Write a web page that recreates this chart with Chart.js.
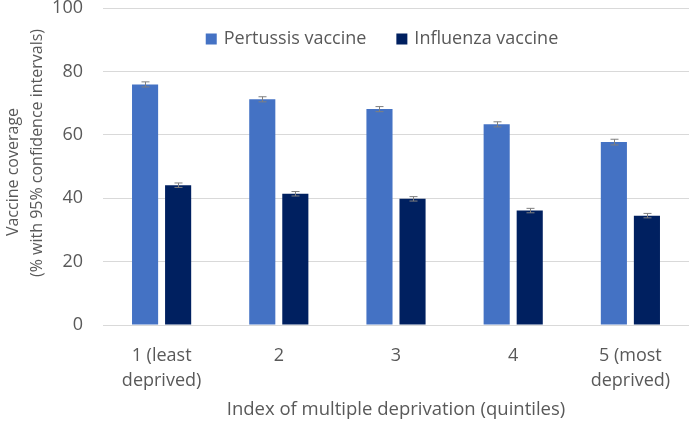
<!DOCTYPE html>
<html>
<head>
<meta charset="utf-8">
<script src="https://cdn.jsdelivr.net/npm/chart.js@4"></script>
<style>
  html, body { margin: 0; padding: 0; background: #fff; }
  #wrap { width: 689px; height: 421px; }
</style>
</head>
<body>
<div id="wrap"><canvas id="myChart" width="689" height="421"></canvas></div>
<script>
// quintile labels (multi-line)
const categories = [["1 (least", "deprived)"], "2", "3", "4", ["5 (most", "deprived)"]]
const pertussis = [75.9, 71.2, 68.1, 63.3, 57.7]
const pertussisLow = [75.1, 70.4, 67.3, 62.5, 56.8]
const pertussisHigh = [76.7, 72.0, 68.9, 64.1, 58.6]
const influenza = [44.1, 41.4, 39.8, 36.1, 34.5]
const influenzaLow = [43.4, 40.7, 39.1, 35.4, 33.8]
const influenzaHigh = [44.8, 42.1, 40.5, 36.8, 35.2]
const yTitle = ["Vaccine coverage", "(% with 95% confidence intervals)"]

const FONT = "'Open Sans', 'Liberation Sans', sans-serif"
const GREY = '#595959'

// draws the 95% CI whiskers on top of each bar
const errorBars = {
    id: 'errorBars',
    afterDatasetsDraw(chart) {
        const ctx = chart.ctx
        const y = chart.scales.y
        const ranges = [[pertussisLow, pertussisHigh], [influenzaLow, influenzaHigh]]
        ctx.save()
        ctx.strokeStyle = '#7f7f7f'
        ctx.lineWidth = 1
        chart.data.datasets.forEach(function (ds, i) {
            const meta = chart.getDatasetMeta(i)
            meta.data.forEach(function (bar, j) {
                const x = Math.round(bar.x) + 0.5
                const lo = y.getPixelForValue(ranges[i][0][j])
                const hi = y.getPixelForValue(ranges[i][1][j])
                ctx.beginPath()
                ctx.moveTo(x, lo); ctx.lineTo(x, hi)
                ctx.moveTo(x - 4, lo); ctx.lineTo(x + 4, lo)
                ctx.moveTo(x - 4, hi); ctx.lineTo(x + 4, hi)
                ctx.stroke()
            })
        })
        ctx.restore()
    }
}

// legend sits inside the plot, near the top
const innerLegend = {
    id: 'innerLegend',
    afterDraw(chart) {
        const ctx = chart.ctx
        const ds = chart.data.datasets
        const box = 11, gap = 7, spacing = 30
        ctx.save()
        ctx.font = "18px " + FONT
        ctx.textBaseline = 'middle'
        let total = 0
        ds.forEach(function (d, i) {
            total += box + gap + ctx.measureText(d.label).width
            if (i < ds.length - 1) total += spacing
        })
        let x = 382 - total / 2
        const yMid = 39
        ds.forEach(function (d) {
            ctx.fillStyle = d.backgroundColor
            ctx.fillRect(x, yMid - box / 2, box, box)
            x += box + gap
            ctx.fillStyle = GREY
            ctx.fillText(d.label, x, yMid)
            x += ctx.measureText(d.label).width + spacing
        })
        ctx.restore()
    }
}

// y axis title, placed like the original (lines not sharing one centre)
const sideTitle = {
    id: 'sideTitle',
    afterDraw(chart) {
        const ctx = chart.ctx
        ctx.save()
        ctx.font = "16px " + FONT
        ctx.fillStyle = GREY
        ctx.textAlign = 'center'
        ctx.textBaseline = 'middle'
        ctx.rotate(-Math.PI / 2)
        ctx.fillText(yTitle[0], -172, 13)
        ctx.fillText(yTitle[1], -153, 37)
        ctx.restore()
    }
}

var ctx = document.getElementById('myChart').getContext('2d');
var chart = new Chart(ctx, {
    type: 'bar',
    data: {
        labels: categories,
        datasets: [{
            label: "Pertussis vaccine",
            backgroundColor: '#4472C4',
            data: pertussis,
        }, {
            label: "Influenza vaccine",
            backgroundColor: '#002060',
            data: influenza,
        }]
    },
    options: {
        responsive: false,
        animation: false,
        events: [],
        categoryPercentage: 0.564,
        barPercentage: 0.79,
        layout: { padding: { top: 8, right: 0, left: 0, bottom: 0 } },
        plugins: {
            legend: { display: false },
            tooltip: { enabled: false }
        },
        scales: {
            x: {
                grid: { display: false },
                border: { color: '#d9d9d9' },
                ticks: {
                    color: GREY,
                    maxRotation: 0,
                    padding: 10,
                    font: { family: FONT, size: 18, lineHeight: 1.4 }
                },
                title: {
                    display: true,
                    text: "Index of multiple deprivation (quintiles)",
                    color: GREY,
                    padding: { top: 4, bottom: 0 },
                    font: { family: FONT, size: 18.5 }
                },
                afterFit: function (s) { s.height = 96; s.paddingTop = 0 }
            },
            y: {
                min: 0,
                max: 100,
                grid: { color: '#d9d9d9', drawTicks: false },
                border: { display: false },
                ticks: {
                    stepSize: 20,
                    color: GREY,
                    padding: 20,
                    font: { family: FONT, size: 18 }
                },
                title: { display: false },
                afterFit: function (s) { s.width = 103; s.paddingTop = 0 }
            }
        }
    },
    plugins: [errorBars, innerLegend, sideTitle]
});
</script>
</body>
</html>
